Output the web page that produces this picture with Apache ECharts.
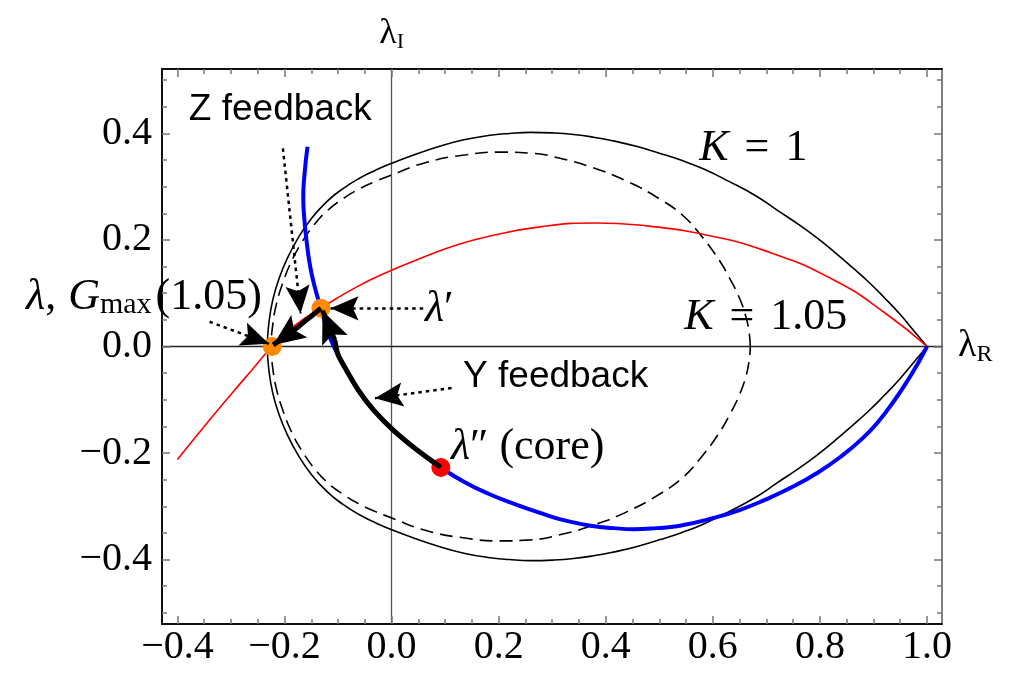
<!DOCTYPE html>
<html>
<head>
<meta charset="utf-8">
<title>K contours</title>
<script src="https://cdn.jsdelivr.net/npm/echarts@6/dist/echarts.min.js"></script>
<style>
html, body { margin: 0; padding: 0; background: #fff; }
#main { width: 1018px; height: 684px; }
</style>
</head>
<body>
<div id="main"></div>
<script>
// axis ranges and ticks
var xMin = -0.4288, xMax = 1.028;
var yMin = -0.521, yMax = 0.521;
var xMajorTicks = [-0.4, -0.2, 0, 0.2, 0.4, 0.6, 0.8, 1.0];
var xMinorTicks = [-0.4, -0.35, -0.3, -0.25, -0.2, -0.15, -0.1, -0.05, 0, 0.05, 0.1, 0.15, 0.2, 0.25, 0.3, 0.35,
  0.4, 0.45, 0.5, 0.55, 0.6, 0.65, 0.7, 0.75, 0.8, 0.85, 0.9, 0.95, 1.0];
var yMajorTicks = [-0.4, -0.2, 0, 0.2, 0.4];
var yMinorTicks = [-0.5, -0.45, -0.4, -0.35, -0.3, -0.25, -0.2, -0.15, -0.1, -0.05, 0, 0.05, 0.1, 0.15, 0.2,
  0.25, 0.3, 0.35, 0.4, 0.45, 0.5];

// K = 1 (solid) : upper half right -> left, lower half left -> right
var k1UpperX = [1.0, 0.975, 0.95, 0.92, 0.89, 0.86, 0.83, 0.797, 0.762, 0.72, 0.68, 0.63, 0.581, 0.54, 0.5, 0.457, 0.414, 0.377, 0.34, 0.3,
  0.26, 0.22, 0.18, 0.135, 0.09, 0.045, 0.0, -0.03, -0.06, -0.09, -0.12, -0.15, -0.175, -0.195, -0.21, -0.222, -0.229, -0.232];
var k1UpperY = [0, 0.03, 0.06, 0.092, 0.122, 0.149, 0.175, 0.202, 0.228, 0.256, 0.283, 0.31, 0.334, 0.35, 0.363, 0.376, 0.386, 0.393, 0.398, 0.401,
  0.402, 0.4, 0.396, 0.388, 0.376, 0.361, 0.344, 0.331, 0.316, 0.297, 0.273, 0.24, 0.203, 0.165, 0.128, 0.087, 0.045, 0];
var k1LowerX = [-0.229, -0.222, -0.21, -0.195, -0.175, -0.15, -0.12, -0.09, -0.06, -0.03, 0.0, 0.045, 0.09, 0.135, 0.18, 0.22, 0.26, 0.3, 0.34, 0.377,
  0.414, 0.457, 0.5, 0.54, 0.581, 0.63, 0.68, 0.72, 0.762, 0.797, 0.83, 0.86, 0.89, 0.92, 0.95, 0.975, 1.0];
var k1LowerY = [-0.045, -0.087, -0.128, -0.165, -0.203, -0.24, -0.273, -0.297, -0.316, -0.331, -0.344, -0.361, -0.376, -0.388, -0.396, -0.4, -0.402, -0.401, -0.398, -0.393,
  -0.386, -0.376, -0.363, -0.35, -0.334, -0.31, -0.283, -0.256, -0.228, -0.202, -0.175, -0.149, -0.122, -0.092, -0.06, -0.03, 0];

// K = 1.05 (dashed)
var k105UpperX = [0.67, 0.668, 0.662, 0.65, 0.633, 0.61, 0.575, 0.545, 0.504, 0.44, 0.375, 0.32, 0.26, 0.2, 0.14, 0.066, 0.0,
  -0.03, -0.06, -0.09, -0.12, -0.145, -0.168, -0.187, -0.203, -0.215, -0.222, -0.225];
var k105UpperY = [0, 0.025, 0.055, 0.09, 0.125, 0.165, 0.212, 0.245, 0.275, 0.31, 0.336, 0.352, 0.363, 0.365, 0.36, 0.346, 0.322,
  0.31, 0.296, 0.278, 0.255, 0.228, 0.195, 0.16, 0.12, 0.08, 0.04, 0];
var k105LowerX = [-0.222, -0.215, -0.203, -0.187, -0.168, -0.145, -0.12, -0.09, -0.06, -0.03, 0.0, 0.066, 0.14, 0.2, 0.26, 0.32, 0.375, 0.44, 0.504, 0.545,
  0.575, 0.61, 0.633, 0.65, 0.662, 0.668, 0.67];
var k105LowerY = [-0.04, -0.08, -0.12, -0.16, -0.195, -0.228, -0.255, -0.278, -0.296, -0.31, -0.322, -0.346, -0.36, -0.365, -0.363, -0.352, -0.336, -0.31, -0.275, -0.245,
  -0.212, -0.165, -0.125, -0.09, -0.055, -0.025, 0];

// red curve
var redX = [-0.4, -0.35, -0.3, -0.26, -0.223, -0.18, -0.132, -0.065, 0.0, 0.053, 0.12, 0.182, 0.28, 0.382, 0.48, 0.575, 0.697, 0.826, 0.923, 1.0];
var redY = [-0.212, -0.15, -0.09, -0.043, 0, 0.04, 0.072, 0.112, 0.143, 0.165, 0.19, 0.207, 0.225, 0.232, 0.226, 0.212, 0.18, 0.125, 0.062, 0];

// blue curve
var blueX = [-0.157, -0.162, -0.165, -0.163, -0.159, -0.152, -0.143, -0.132, -0.121, -0.108, -0.084, -0.06, -0.034, 0.003, 0.047,
  0.092, 0.135, 0.182, 0.23, 0.279, 0.325, 0.375, 0.415, 0.452, 0.495, 0.536, 0.601, 0.65, 0.697, 0.75, 0.794, 0.84, 0.88,
  0.91, 0.94, 0.965, 0.985, 1.0];
var blueY = [0.375, 0.33, 0.28, 0.24, 0.2, 0.15, 0.11, 0.072, 0.034, 0, -0.045, -0.085, -0.119, -0.157, -0.194,
  -0.227, -0.254, -0.277, -0.296, -0.313, -0.327, -0.337, -0.341, -0.343, -0.341, -0.337, -0.322, -0.307, -0.288, -0.263, -0.238, -0.206, -0.172,
  -0.14, -0.1, -0.062, -0.028, 0];

// thick black feedback paths
var corePathX = [0.092, 0.047, 0.003, -0.034, -0.06, -0.084, -0.1, -0.106];
var corePathY = [-0.227, -0.194, -0.157, -0.119, -0.085, -0.045, -0.015, 0.012];
var primePathX = [-0.132, -0.145, -0.16, -0.175];
var primePathY = [0.072, 0.061, 0.049, 0.036];
var thickFrom = [[-0.106, 0.012], [-0.175, 0.036]];
var thickTo = [[-0.129, 0.067], [-0.221, 0.003]];

// dotted pointer arrows
var dotFrom = [[-0.203, 0.372], [-0.34, 0.0465], [0.059, 0.0717], [0.112, -0.078]];
var dotTo = [[-0.17, 0.062], [-0.229, 0.005], [-0.114, 0.0717], [-0.031, -0.097]];

// points
var orangePts = [[-0.223, 0], [-0.132, 0.072]];
var redPts = [[0.092, -0.227]];

// annotations
var noteX = [-0.3787, 0.5746, 0.5465, 0.0624, 0.1335, 0.111, -0.2422];
var noteY = [0.4437, 0.3724, 0.0553, 0.0704, -0.0572, -0.1886, 0.0929];
var noteText = ['{s|Z feedback}', '{i|K}{eq|=}{r|1}', '{i|K}{eq|=}{r|1.05}', '{i|λ}{r|′}', '{s|Y feedback}',
  '{i|λ}{r|″ (core)}', '{i|λ}{cm|,}{i|G}{sub|max}{r|(1.05)}'];
var noteAlign = ['left', 'left', 'left', 'left', 'left', 'left', 'right'];

var serif = 'Liberation Serif';
var sans = 'Liberation Sans';

function pairs(xs, ys) {
  var out = [];
  for (var i = 0; i < xs.length; i++) out.push([xs[i], ys[i]]);
  return out;
}
function tickFmt(v) {
  return (v < -1e-9 ? '\u2212' : '') + Math.abs(v).toFixed(1);
}

// arrow head with its tip on the symbol centre (square box, head fills the lower half)
var headPath = 'path://M0,0 L0.01,0 M60,60 L59.99,60 M30,30 L43,60 L30,54 L17,60 Z';

// rich styles for the note texts (zrender names: fill)
var noteRich = {
  i: { fontFamily: serif, fontStyle: 'italic', fontSize: 44, fill: '#000' },
  r: { fontFamily: serif, fontSize: 44, fill: '#000' },
  eq: { fontFamily: serif, fontSize: 44, fill: '#000', padding: [0, 16, 0, 16] },
  cm: { fontFamily: serif, fontSize: 44, fill: '#000', padding: [0, 12, 0, 0] },
  s: { fontFamily: sans, fontSize: 37, fill: '#000' },
  sub: { fontFamily: serif, fontSize: 30, fill: '#000', padding: [16, 4, 0, 0] }
};

function xFrame(pos, ticks, len, labels, color) {
  return {
    type: 'value', min: xMin, max: xMax, position: pos,
    axisLine: { show: true, onZero: false, lineStyle: { color: color, width: 1.5 } },
    axisTick: { show: true, inside: true, length: len, customValues: ticks, lineStyle: { color: '#777', width: 1.5 } },
    axisLabel: { show: labels, customValues: ticks, formatter: tickFmt, fontFamily: serif, fontSize: 40, color: '#000', margin: 3 },
    splitLine: { show: false }
  };
}
function yFrame(pos, ticks, len, labels, color) {
  return {
    type: 'value', min: yMin, max: yMax, position: pos,
    axisLine: { show: true, onZero: false, lineStyle: { color: color, width: 1.5 } },
    axisTick: { show: true, inside: true, length: len, customValues: ticks, lineStyle: { color: '#777', width: 1.5 } },
    axisLabel: { show: labels, customValues: ticks, formatter: tickFmt, fontFamily: serif, fontSize: 40, color: '#000', margin: 10 },
    splitLine: { show: false }
  };
}

var myChart = echarts.init(document.getElementById('main'));

var thickData = [], dotData = [];
for (var t = 0; t < thickFrom.length; t++) thickData.push({ coords: [thickFrom[t], thickTo[t]] });
for (var d = 0; d < dotFrom.length; d++) dotData.push({ coords: [dotFrom[d], dotTo[d]] });

myChart.setOption({
  animation: false,
  backgroundColor: '#fff',
  textStyle: { color: '#000' },
  grid: { left: 162, top: 69, width: 780, height: 555, show: false, outerBoundsMode: 'none' },
  xAxis: [
    xFrame('bottom', xMajorTicks, 8, true, '#000'),
    xFrame('bottom', xMinorTicks, 5, false, '#000'),
    xFrame('top', xMajorTicks, 8, false, '#000'),
    xFrame('top', xMinorTicks, 5, false, '#000'),
    {
      type: 'value', min: xMin, max: xMax, position: 'bottom',
      axisLine: { show: true, onZero: true, onZeroAxisIndex: 0, lineStyle: { color: '#222', width: 1.3 } },
      axisTick: { show: false }, axisLabel: { show: false }, splitLine: { show: false },
      name: '{l|λ}{s|R}', nameLocation: 'end', nameGap: 16,
      nameTextStyle: { color: '#000', rich: {
        l: { fontFamily: serif, fontSize: 38, color: '#000' },
        s: { fontFamily: serif, fontSize: 24, color: '#000', padding: [16, 0, 0, 0] }
      } }
    }
  ],
  yAxis: [
    yFrame('left', yMajorTicks, 8, true, '#000'),
    yFrame('left', yMinorTicks, 5, false, '#000'),
    yFrame('right', yMajorTicks, 8, false, '#777'),
    yFrame('right', yMinorTicks, 5, false, '#777'),
    {
      type: 'value', min: yMin, max: yMax, position: 'left',
      axisLine: { show: true, onZero: true, onZeroAxisIndex: 0, lineStyle: { color: '#555', width: 1.3 } },
      axisTick: { show: false }, axisLabel: { show: false }, splitLine: { show: false },
      name: '{l|λ}{s|I}', nameLocation: 'end', nameGap: 16,
      nameTextStyle: { color: '#000', rich: {
        l: { fontFamily: serif, fontSize: 36, color: '#000' },
        s: { fontFamily: serif, fontSize: 22, color: '#000', padding: [16, 0, 0, 0] }
      } }
    }
  ],
  series: [
    {
      name: 'K = 1', type: 'line', smooth: 0.5, symbol: 'none', z: 2,
      data: pairs(k1UpperX, k1UpperY).concat(pairs(k1LowerX, k1LowerY)),
      lineStyle: { color: '#000', width: 1.6 }
    },
    {
      name: 'K = 1.05', type: 'line', smooth: 0.5, symbol: 'none', z: 2,
      data: pairs(k105UpperX, k105UpperY).concat(pairs(k105LowerX, k105LowerY)),
      lineStyle: { color: '#000', width: 1.6, type: [13, 7] }
    },
    {
      name: 'red', type: 'line', smooth: 0.5, symbol: 'none', z: 3,
      data: pairs(redX, redY),
      lineStyle: { color: '#ff0000', width: 1.6 }
    },
    {
      name: 'blue', type: 'line', smooth: 0.5, symbol: 'none', z: 4,
      data: pairs(blueX, blueY),
      lineStyle: { color: '#0000ff', width: 4 }
    },
    {
      name: 'orange', type: 'scatter', symbol: 'circle', symbolSize: 19, z: 5,
      data: orangePts, itemStyle: { color: '#ff8a00', opacity: 1 }
    },
    {
      name: 'core', type: 'scatter', symbol: 'circle', symbolSize: 19, z: 5,
      data: redPts, itemStyle: { color: '#ff0000', opacity: 1 }
    },
    {
      name: 'core path', type: 'line', smooth: 0.3, symbol: 'none', z: 6,
      data: pairs(corePathX, corePathY),
      lineStyle: { color: '#000', width: 5 }
    },
    {
      name: 'prime path', type: 'line', smooth: 0.3, symbol: 'none', z: 6,
      data: pairs(primePathX, primePathY),
      lineStyle: { color: '#000', width: 5 }
    },
    {
      name: 'heads', type: 'lines', coordinateSystem: 'cartesian2d', z: 7,
      symbol: ['none', headPath], symbolSize: [1, 64],
      data: thickData,
      lineStyle: { color: '#000', width: 5, opacity: 1 }
    },
    {
      name: 'pointers', type: 'lines', coordinateSystem: 'cartesian2d', z: 7,
      symbol: ['none', headPath], symbolSize: [1, 56],
      data: dotData,
      lineStyle: { color: '#000', width: 2.5, type: [3.5, 4], opacity: 1 }
    },
    {
      name: 'notes', type: 'custom', z: 8, clip: false,
      data: pairs(noteX, noteY),
      renderItem: function (params, api) {
        var i = params.dataIndex;
        var p = api.coord([api.value(0), api.value(1)]);
        return {
          type: 'text', x: p[0], y: p[1],
          style: {
            text: noteText[i], rich: noteRich, fill: '#000',
            align: noteAlign[i], verticalAlign: 'middle'
          }
        };
      }
    }
  ]
});
</script>
</body>
</html>
